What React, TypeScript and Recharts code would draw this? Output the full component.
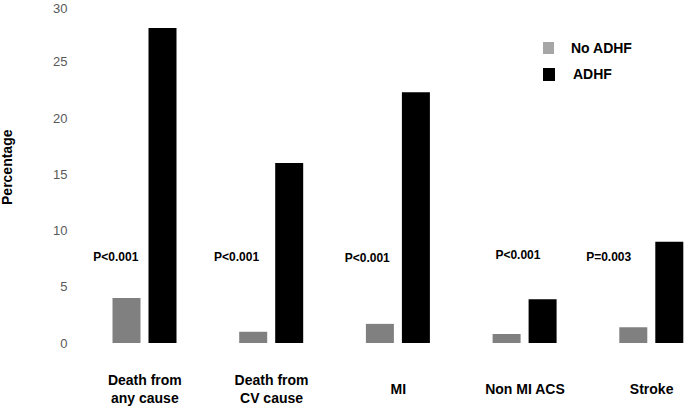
import React from 'react';
import { BarChart, Bar, XAxis, YAxis, Legend, ReferenceDot, Label } from 'recharts';

const categories = ['Death from\nany cause', 'Death from\nCV cause', 'MI', 'Non MI ACS', 'Stroke'];
const noAdhf = [4.0, 1.0, 1.7, 0.8, 1.4];
const adhf = [28.0, 16.0, 22.3, 3.9, 9.0];
const pValues = ['P<0.001', 'P<0.001', 'P<0.001', 'P<0.001', 'P=0.003'];
const yTicks = [0, 5, 10, 15, 20, 25, 30];
const pLabelLevel = 7.7;

// layout-only offsets for the p-value labels (pixels)
const pLabelDx = [-29, -35, -31, -7, -43];
const pLabelDy = [0, 0, 1, -2, 0];

const data = categories.map((name, i) => ({ name, noAdhf: noAdhf[i], adhf: adhf[i] }));

const ARIAL = '"Liberation Sans", Arial, sans-serif';

const CatTick = (props: any) => {
  const { x, y, payload } = props;
  const lines = String(payload.value).split('\n');
  const offs = lines.length === 1 ? [51] : [42, 60];
  return (
    <g>
      {lines.map((l, i) => (
        <text key={i} x={x} y={y + offs[i]} textAnchor="middle" fontFamily={ARIAL} fontWeight="bold" fontSize={14} fill="#000">
          {l}
        </text>
      ))}
    </g>
  );
};

const LegendContent = () => (
  <div style={{ position: 'relative', width: 120, height: 50, fontFamily: ARIAL, fontWeight: 'bold', fontSize: '14px', color: '#000' }}>
    <div style={{ position: 'absolute', left: 0, top: 0, width: 11, height: 12, background: '#a6a6a6' }} />
    <div style={{ position: 'absolute', left: 28, top: -2, lineHeight: '16px', fontSize: '14px', whiteSpace: 'nowrap' }}>No ADHF</div>
    <div style={{ position: 'absolute', left: 0, top: 26, width: 12, height: 13, background: '#000' }} />
    <div style={{ position: 'absolute', left: 30, top: 24, lineHeight: '16px', fontSize: '14px', whiteSpace: 'nowrap' }}>ADHF</div>
  </div>
);

export default function App() {
  return (
    <div style={{ position: 'fixed', left: 0, top: 0, width: 685, height: 407, overflow: 'hidden', background: '#fff' }}>
      <BarChart width={730} height={407} data={data} margin={{ top: 5.5, right: 15, bottom: 0, left: 0 }} barSize={28} barGap={8}>
        <XAxis dataKey="name" axisLine={false} tickLine={false} tickSize={0} tickMargin={0} height={64} tick={<CatTick />} interval={0} />
        <YAxis
          width={81.5}
          domain={[0, 30]}
          ticks={yTicks}
          axisLine={false}
          tickLine={false}
          tickSize={0}
          tickMargin={14}
          tick={{ fill: '#595959', fontSize: 13, fontFamily: ARIAL }}
        >
          <Label value="Percentage" angle={-90} position="center" dx={-34} dy={-7} style={{ fontFamily: ARIAL, fontWeight: 'bold', fontSize: 14, fill: '#000' }} />
        </YAxis>
        <Legend
          layout="horizontal"
          verticalAlign="middle"
          align="center"
          content={<LegendContent />}
          wrapperStyle={{ position: 'absolute', left: 543, top: 42, width: 120, height: 50 }}
        />
        <Bar dataKey="noAdhf" name="No ADHF" fill="#808080" isAnimationActive={false} />
        <Bar dataKey="adhf" name="ADHF" fill="#000000" isAnimationActive={false} />
        {categories.map((c, i) => (
          <ReferenceDot
            key={c}
            x={c}
            y={pLabelLevel}
            r={0}
            fill="none"
            stroke="none"
            label={{
              value: pValues[i],
              position: 'center',
              dx: pLabelDx[i],
              dy: pLabelDy[i],
              style: { fontFamily: ARIAL, fontWeight: 'bold', fontSize: 12, fill: '#000' },
            }}
          />
        ))}
      </BarChart>
    </div>
  );
}
